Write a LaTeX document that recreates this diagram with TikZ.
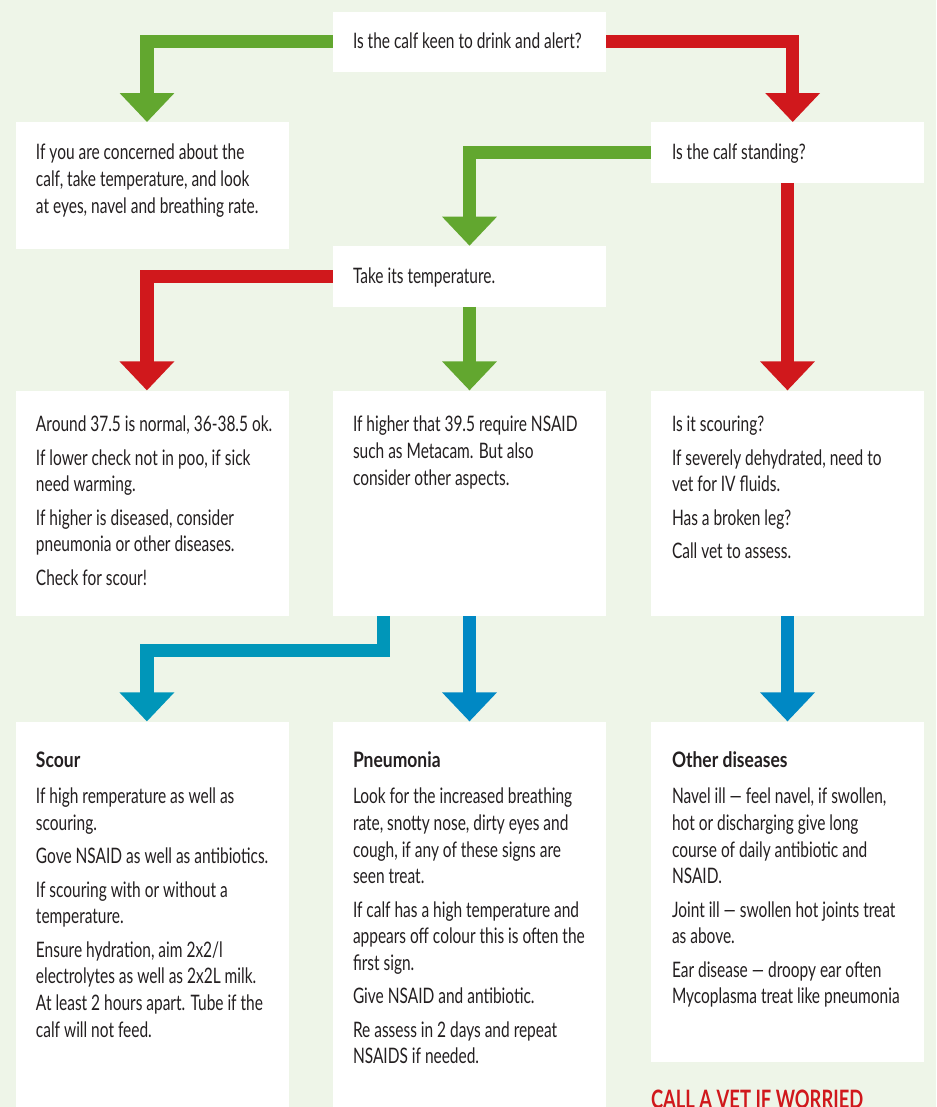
\documentclass[tikz,border=0pt]{standalone}
\usepackage{fontspec}
\setmainfont[FakeStretch=0.725]{Lato}
\newfontfamily\hfont[FakeStretch=0.82]{Lato}
\usetikzlibrary{arrows.meta,calc,fit}
\definecolor{bg}{HTML}{EEF5E8}
\definecolor{cgreen}{HTML}{62A72F}
\definecolor{cred}{HTML}{D0181C}
\definecolor{cteal}{HTML}{0096B9}
\definecolor{cblue}{HTML}{0088C4}
\definecolor{ink}{HTML}{231F20}
\newcommand\fl{\rule{0pt}{14pt}}
\newcommand\hd[1]{{\hfont\bfseries #1}}
\begin{document}
\begin{tikzpicture}[x=0.75pt,y=-0.75pt,
  box/.style={fill=white,draw=none,inner sep=0pt},
  txt/.style={anchor=north west,align=left,inner sep=0pt,text=ink,font=\fontsize{16}{20}\selectfont},
  arr/.style={line width=10pt,line join=miter,-{Triangle[length=21.75pt,width=39.75pt]}}]
\fill[bg] (0,0) rectangle (936,1107);
\useasboundingbox (0,0) rectangle (936,1107);
% boxes
\node[box,fit={(333,11.7) (606,71.7)}] (A) {};
\node[box,fit={(651,122.3) (924,182.7)}] (B) {};
\node[box,fit={(16,122.3) (289,248.7)}] (conc) {};
\node[box,fit={(333,246) (606,306.7)}] (take) {};
\node[box,fit={(16,390.7) (289,616)}] (l3) {};
\node[box,fit={(333,390.7) (606,616)}] (m3) {};
\node[box,fit={(651,390.7) (924,616)}] (r3) {};
\node[box,fit={(16,721.7) (289,1120)}] (l4) {};
\node[box,fit={(333,721.7) (606,1120)}] (m4) {};
\node[box,fit={(651,721.7) (924,1062)}] (r4) {};
% texts
\node[txt] (tA) at ($(A.north west)+(20,18.6)$) {\fl Is the calf keen to drink and alert?};
\node[txt] (tB) at ($(B.north west)+(21,19)$) {\fl Is the calf standing?};
\node[txt] (tconc) at ($(conc.north west)+(20,19)$) {\fl If you are concerned about the\\calf, take temperature, and look\\at eyes, navel and breathing rate.};
\node[txt] (ttake) at ($(take.north west)+(20,19.3)$) {\fl Take its temperature.};
\node[txt] (tl3) at ($(l3.north west)+(20,22.6)$) {\fl Around 37.5 is normal, 36-38.5 ok.\\[5pt]If lower check not in poo, if sick\\need warming.\\[5pt]If higher is diseased, consider\\pneumonia or other diseases.\\[5pt]Check for scour!};
\node[txt] (tm3) at ($(m3.north west)+(20,22.6)$) {\fl If higher that 39.5 require NSAID\\such as Metacam. But also\\consider other aspects.};
\node[txt] (tr3) at ($(r3.north west)+(21,22.6)$) {\fl Is it scouring?\\[5pt]If severely dehydrated, need to\\vet for IV fluids.\\[5pt]Has a broken leg?\\[5pt]Call vet to assess.};
\node[txt] (tl4) at ($(l4.north west)+(20,27.6)$) {\fl\hd{Scour}\\[7pt]If high remperature as well as\\scouring.\\[5pt]Gove NSAID as well as antibiotics.\\[5pt]If scouring with or without a\\temperature.\\[5pt]Ensure hydration, aim 2x2/l\\electrolytes as well as 2x2L milk.\\At least 2 hours apart. Tube if the\\calf will not feed.};
\node[txt] (tm4) at ($(m4.north west)+(20,27.6)$) {\fl\hd{Pneumonia}\\[7pt]Look for the increased breathing\\rate, snotty nose, dirty eyes and\\cough, if any of these signs are\\seen treat.\\[5pt]If calf has a high temperature and\\appears off colour this is often the\\first sign.\\[5pt]Give NSAID and antibiotic.\\[5pt]Re assess in 2 days and repeat\\NSAIDS if needed.};
\node[txt] (tr4) at ($(r4.north west)+(21,27.6)$) {\fl\hd{Other diseases}\\[7pt]Navel ill — feel navel, if swollen,\\hot or discharging give long\\course of daily antibiotic and\\NSAID.\\[5pt]Joint ill — swollen hot joints treat\\as above.\\[5pt]Ear disease — droopy ear often\\Mycoplasma treat like pneumonia};
\node[anchor=base west,inner sep=0pt,text=cred,font=\fontsize{19}{22}\selectfont\bfseries] (call) at ($(r4.south west)+(0,46)$) {CALL A VET IF WORRIED};
% arrows
\draw[arr,cgreen] (A.west) -| ($(conc.north)+(-5.5,0)$);
\draw[arr,cred] (A.east) -| ($(B.north)+(5.2,0)$);
\draw[arr,cgreen] (B.west) -| (take.north);
\draw[arr,cred] (take.west) -| ($(l3.north)+(-5.6,0)$);
\draw[arr,cgreen] (take.south) -- (m3.north);
\draw[arr,cred] (B.south) -- (r3.north);
\draw[arr,cteal] ($(m3.south)+(-86.2,0)$) -- ++(0,34.3) -| ($(l4.north)+(-5.6,0)$);
\draw[arr,cblue] (m3.south) -- (m4.north);
\draw[arr,cblue] (r3.south) -- (r4.north);
\end{tikzpicture}
\end{document}
